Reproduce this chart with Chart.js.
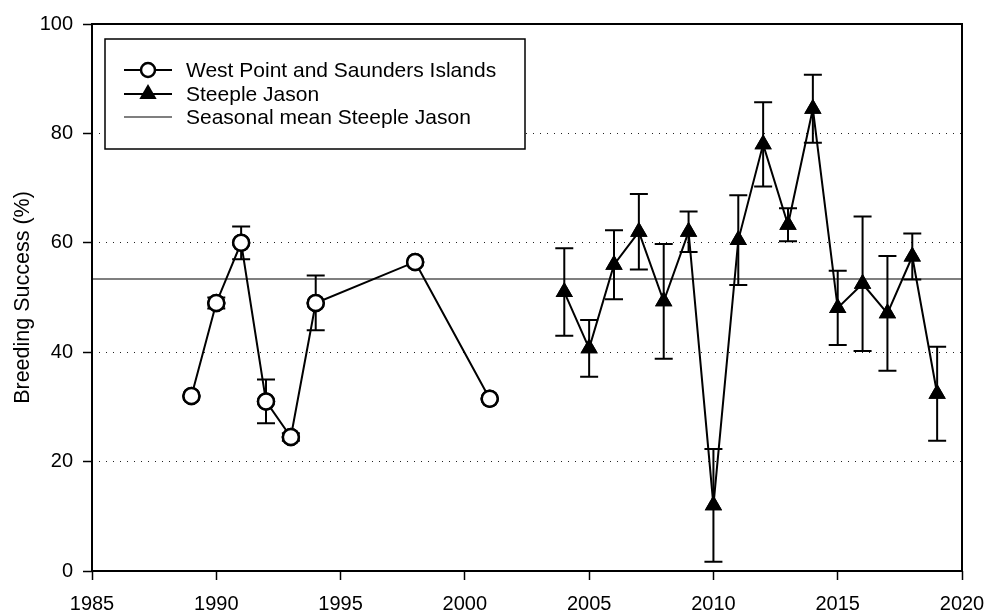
<!DOCTYPE html>
<html>
<head>
<meta charset="utf-8">
<script src="https://cdn.jsdelivr.net/npm/chart.js@4"></script>
<style>
  html, body { margin: 0; padding: 0; background: #fff; }
  #wrap { width: 988px; height: 613px; }
</style>
</head>
<body>
<div id="wrap"><canvas id="myChart" width="988" height="613"></canvas></div>
<script>
// West Point and Saunders Islands
const wpYears = [1989, 1990, 1991, 1992, 1993, 1994, 1998, 2001];
const wpValues = [32, 49, 60, 31, 24.5, 49, 56.5, 31.5];
const wpErrors = [null, 1, 3, 4, 0.7, 5, null, null];

// Steeple Jason
const sjYears = [2004, 2005, 2006, 2007, 2008, 2009, 2010, 2011, 2012, 2013, 2014, 2015, 2016, 2017, 2018, 2019];
const sjValues = [51, 40.7, 56, 62, 49.3, 62, 12, 60.5, 78, 63.3, 84.5, 48.1, 52.5, 47.1, 57.5, 32.4];
const sjErrors = [8, 5.2, 6.3, 6.9, 10.5, 3.7, 10.3, 8.2, 7.7, 3, 6.2, 6.8, 12.3, 10.5, 4.2, 8.6];

const meanSJ = 53.4;
const xTicks = [1985, 1990, 1995, 2000, 2005, 2010, 2015, 2020];
const yTicks = [0, 20, 40, 60, 80, 100];

const FONT = 'Liberation Sans, Arial, sans-serif';

const toPoints = (xs, ys) => xs.map((x, i) => ({ x: x, y: ys[i] }));

// error bars drawn with the scales
const errorBars = {
    id: 'errorBars',
    afterDatasetsDraw(chart) {
        const ctx = chart.ctx;
        const xs = chart.scales.x, ys = chart.scales.y;
        const sets = [[wpYears, wpValues, wpErrors], [sjYears, sjValues, sjErrors]];
        ctx.save();
        ctx.strokeStyle = '#000';
        ctx.lineWidth = 2;
        sets.forEach(([yrs, vals, errs]) => {
            yrs.forEach((yr, i) => {
                if (errs[i] == null) return;
                const px = xs.getPixelForValue(yr);
                const top = ys.getPixelForValue(vals[i] + errs[i]);
                const bot = ys.getPixelForValue(vals[i] - errs[i]);
                ctx.beginPath();
                ctx.moveTo(px, top); ctx.lineTo(px, bot);
                ctx.moveTo(px - 9, top); ctx.lineTo(px + 9, top);
                ctx.moveTo(px - 9, bot); ctx.lineTo(px + 9, bot);
                ctx.stroke();
            });
        });
        ctx.restore();
    },
    afterDraw(chart) {
        // redraw markers on top of error bars
        chart.getSortedVisibleDatasetMetas().slice().reverse().forEach(m => {
            if (m.index === 2) return;
            m.data.forEach(el => el.draw(chart.ctx, chart.chartArea));
        });
    }
};

// frame + legend box
const frameLegend = {
    id: 'frameLegend',
    afterDraw(chart) {
        const ctx = chart.ctx;
        const a = chart.chartArea;
        ctx.save();
        ctx.strokeStyle = '#000';
        ctx.lineWidth = 2;
        ctx.strokeRect(a.left, a.top, a.right - a.left, a.bottom - a.top);

        const bx = 105, by = 39, bw = 420, bh = 110;
        ctx.fillStyle = '#fff';
        ctx.fillRect(bx, by, bw, bh);
        ctx.lineWidth = 1.5;
        ctx.strokeRect(bx, by, bw, bh);

        const rows = [70, 94, 117];
        const ds = chart.data.datasets;
        ctx.font = '21px ' + FONT;
        ctx.textBaseline = 'middle';
        ctx.textAlign = 'left';
        rows.forEach((ry, i) => {
            ctx.beginPath();
            ctx.moveTo(124, ry); ctx.lineTo(172, ry);
            ctx.strokeStyle = i === 2 ? '#555' : '#000';
            ctx.lineWidth = i === 2 ? 1.5 : 2;
            ctx.stroke();
            if (i === 0) {
                ctx.beginPath();
                ctx.arc(148, ry, 7, 0, Math.PI * 2);
                ctx.fillStyle = '#fff';
                ctx.fill();
                ctx.lineWidth = 2.5;
                ctx.strokeStyle = '#000';
                ctx.stroke();
            } else if (i === 1) {
                const r = 10;
                ctx.beginPath();
                ctx.moveTo(148, ry - r);
                ctx.lineTo(148 + r * Math.sin(2 * Math.PI / 3), ry + r / 2);
                ctx.lineTo(148 - r * Math.sin(2 * Math.PI / 3), ry + r / 2);
                ctx.closePath();
                ctx.fillStyle = '#000';
                ctx.fill();
            }
            ctx.fillStyle = '#000';
            ctx.fillText(ds[i].label, 186, ry + 1);
        });
        ctx.restore();
    }
};

const ctx = document.getElementById('myChart').getContext('2d');
new Chart(ctx, {
    type: 'line',
    data: {
        datasets: [{
            label: 'West Point and Saunders Islands',
            data: toPoints(wpYears, wpValues),
            borderColor: '#000',
            borderWidth: 2,
            pointStyle: 'circle',
            pointRadius: 8,
            pointBorderWidth: 2.5,
            pointBackgroundColor: '#fff',
            pointBorderColor: '#000',
            tension: 0
        }, {
            label: 'Steeple Jason',
            data: toPoints(sjYears, sjValues),
            borderColor: '#000',
            borderWidth: 2,
            pointStyle: 'triangle',
            pointRadius: 10,
            pointBorderWidth: 0,
            pointBackgroundColor: '#000',
            pointBorderColor: '#000',
            tension: 0
        }, {
            label: 'Seasonal mean Steeple Jason',
            data: [{ x: 1985, y: meanSJ }, { x: 2020, y: meanSJ }],
            borderColor: '#555',
            borderWidth: 1.5,
            pointRadius: 0
        }]
    },
    options: {
        responsive: false,
        animation: false,
        layout: { padding: { left: 0, right: 26, top: 24, bottom: 0 } },
        plugins: {
            legend: { display: false },
            tooltip: { enabled: false }
        },
        scales: {
            x: {
                type: 'linear',
                min: 1985,
                max: 2020,
                afterFit: (s) => { s.height = 42; s.paddingLeft = 0; s.paddingRight = 0; },
                afterBuildTicks: (s) => { s.ticks = xTicks.map(v => ({ value: v })); },
                ticks: {
                    color: '#000',
                    font: { family: FONT, size: 20 },
                    padding: 12,
                    maxRotation: 0,
                    callback: (v) => String(v)
                },
                grid: {
                    drawOnChartArea: false,
                    tickLength: 9,
                    tickColor: '#000',
                    tickWidth: 1.5
                },
                border: { display: false }
            },
            y: {
                min: 0,
                max: 100,
                afterFit: (s) => { s.width = 92; },
                afterBuildTicks: (s) => { s.ticks = yTicks.map(v => ({ value: v })); },
                ticks: {
                    color: '#000',
                    font: { family: FONT, size: 20 },
                    padding: 10,
                    callback: (v) => String(v)
                },
                grid: {
                    color: (c) => (c.tick && (c.tick.value === 0 || c.tick.value === 100)) ? 'rgba(0,0,0,0)' : '#222',
                    lineWidth: 1,
                    tickLength: 9,
                    tickColor: '#000',
                    tickWidth: 1.5,
                    tickBorderDash: []
                },
                border: { display: false, dash: [1, 6] },
                title: {
                    display: true,
                    text: 'Breeding Success (%)',
                    color: '#000',
                    font: { family: FONT, size: 21.5 },
                    padding: { top: 10, bottom: 0 }
                }
            }
        }
    },
    plugins: [errorBars, frameLegend]
});
</script>
</body>
</html>
